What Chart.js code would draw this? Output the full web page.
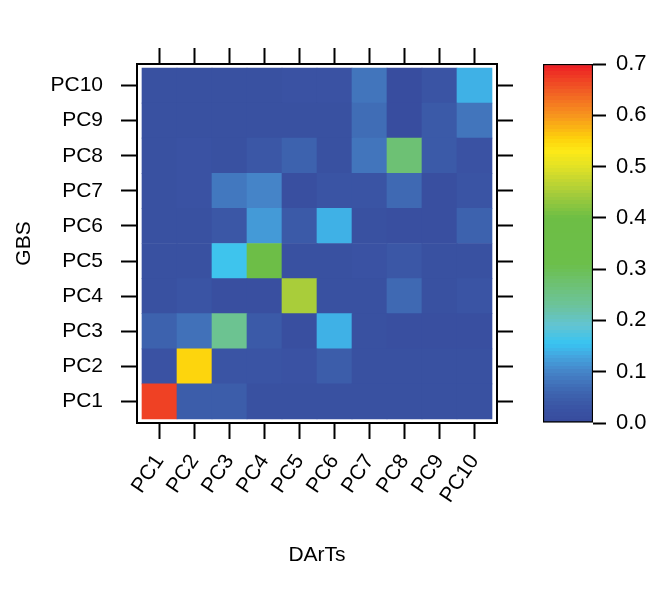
<!DOCTYPE html>
<html>
<head>
<meta charset="utf-8">
<script src="https://cdn.jsdelivr.net/npm/chart.js@4.4.1/dist/chart.umd.min.js"></script>
<style>
  html, body { margin: 0; padding: 0; background: #fff; }
  #wrap { position: relative; width: 666px; height: 595px; }
  #heat { position: absolute; left: 0; top: 0; }
  #bar { position: absolute; left: 500px; top: 0; }
</style>
</head>
<body>
<div id="wrap">
  <canvas id="heat" width="666" height="595"></canvas>
  <canvas id="bar" width="166" height="595"></canvas>
</div>
<script>
// DArTs components along x, GBS components along y
const dartsLabels = ['PC1', 'PC2', 'PC3', 'PC4', 'PC5', 'PC6', 'PC7', 'PC8', 'PC9', 'PC10'];
const gbsLabels = ['PC1', 'PC2', 'PC3', 'PC4', 'PC5', 'PC6', 'PC7', 'PC8', 'PC9', 'PC10'];

// one array per GBS row, values for DArTs PC1..PC10
const gbsPC1 = [0.67, 0.045, 0.045, 0.02, 0.02, 0.02, 0.02, 0.02, 0.02, 0.02];
const gbsPC2 = [0.025, 0.55, 0.03, 0.03, 0.025, 0.045, 0.02, 0.02, 0.02, 0.02];
const gbsPC3 = [0.055, 0.075, 0.24, 0.04, 0.015, 0.14, 0.02, 0.015, 0.015, 0.015];
const gbsPC4 = [0.02, 0.03, 0.015, 0.015, 0.45, 0.02, 0.02, 0.065, 0.02, 0.03];
const gbsPC5 = [0.02, 0.02, 0.16, 0.36, 0.02, 0.02, 0.025, 0.035, 0.02, 0.02];
const gbsPC6 = [0.02, 0.02, 0.035, 0.12, 0.04, 0.14, 0.02, 0.015, 0.015, 0.055];
const gbsPC7 = [0.02, 0.025, 0.085, 0.10, 0.015, 0.03, 0.03, 0.065, 0.015, 0.03];
const gbsPC8 = [0.02, 0.025, 0.02, 0.035, 0.055, 0.02, 0.08, 0.27, 0.04, 0.025];
const gbsPC9 = [0.02, 0.02, 0.02, 0.02, 0.02, 0.02, 0.07, 0.01, 0.04, 0.08];
const gbsPC10 = [0.02, 0.02, 0.02, 0.02, 0.025, 0.025, 0.08, 0.01, 0.03, 0.14];
const gbsRows = [gbsPC1, gbsPC2, gbsPC3, gbsPC4, gbsPC5, gbsPC6, gbsPC7, gbsPC8, gbsPC9, gbsPC10];

// colour key
const keyMin = 0.0;
const keyMax = 0.7;
const keyTicks = [0.0, 0.1, 0.2, 0.3, 0.4, 0.5, 0.6, 0.7];

// palette stops (value, colour)
const palette = [
  [0.00, '#374a9c'], [0.03, '#3a54a4'], [0.06, '#3e65b0'], [0.10, '#4584c8'],
  [0.13, '#44a5df'], [0.155, '#38c4f1'], [0.19, '#62c4d2'], [0.23, '#6cc39a'],
  [0.26, '#6dc27e'], [0.31, '#6cbf4a'], [0.40, '#6dbe45'], [0.45, '#a9cd3a'],
  [0.50, '#e2e225'], [0.53, '#fde917'], [0.555, '#fdd00b'], [0.60, '#f7941e'],
  [0.65, '#f15a24'], [0.70, '#ed1c24']
];

function hexRgb(h) {
  return [1, 3, 5].map(i => parseInt(h.substr(i, 2), 16));
}

function colorFor(v) {
  if (v <= palette[0][0]) return palette[0][1];
  for (let i = 1; i < palette.length; i++) {
    if (v <= palette[i][0]) {
      const [v0, c0] = palette[i - 1];
      const [v1, c1] = palette[i];
      const t = (v - v0) / (v1 - v0);
      const a = hexRgb(c0), b = hexRgb(c1);
      const c = a.map((x, k) => Math.round(x + (b[k] - x) * t));
      return `rgb(${c[0]},${c[1]},${c[2]})`;
    }
  }
  return palette[palette.length - 1][1];
}

Chart.defaults.font.family = "'Liberation Sans', Arial, sans-serif";
Chart.defaults.font.size = 21;
Chart.defaults.color = '#000';

const tickGrid = { drawOnChartArea: false, offset: false, tickLength: 16, tickColor: '#000', tickWidth: 2 };
const frame = { display: true, color: '#000', width: 2 };
const xTicks = axis => { axis.ticks = dartsLabels.map((_, i) => ({ value: i + 1 })); };
const yTicks = axis => { axis.ticks = gbsLabels.map((_, i) => ({ value: i + 1 })); };

const datasets = gbsRows.map((row, r) => ({
  label: gbsLabels[r],
  data: row.map((v, c) => ({ x: c + 1, y: [r + 0.5, r + 1.5], v: v })),
  backgroundColor: ctx => colorFor(ctx.raw.v),
  borderWidth: 0,
  grouped: false,
  barPercentage: 1,
  categoryPercentage: 1
}));

new Chart(document.getElementById('heat'), {
  type: 'bar',
  data: { datasets },
  options: {
    responsive: false,
    devicePixelRatio: 1,
    animation: false,
    layout: { padding: 0 },
    plugins: { legend: { display: false }, tooltip: { enabled: false } },
    scales: {
      x: {
        type: 'linear', position: 'bottom', min: 0.357, max: 10.643, offset: false,
        afterBuildTicks: xTicks,
        afterFit: s => { s.height = 172; },
        ticks: { callback: v => dartsLabels[v - 1], minRotation: 56, maxRotation: 56, padding: 11 },
        grid: tickGrid, border: frame,
        title: { display: true, text: 'DArTs', padding: { top: 0, bottom: 27 } }
      },
      x2: {
        type: 'linear', axis: 'x', position: 'top', min: 0.357, max: 10.643, offset: false,
        afterBuildTicks: xTicks,
        afterFit: s => { s.height = 64; },
        ticks: { display: false },
        grid: tickGrid, border: frame
      },
      y: {
        type: 'linear', position: 'left', min: 0.386, max: 10.614, offset: false,
        afterBuildTicks: yTicks,
        afterFit: s => { s.width = 137; },
        ticks: { callback: v => gbsLabels[v - 1], padding: 18 },
        grid: tickGrid, border: frame,
        title: { display: true, text: 'GBS', padding: { top: 12, bottom: 0 } }
      },
      y2: {
        type: 'linear', axis: 'y', position: 'right', min: 0.386, max: 10.614, offset: false,
        afterBuildTicks: yTicks,
        afterFit: s => { s.width = 169; },
        ticks: { display: false },
        grid: tickGrid, border: frame
      }
    }
  }
});

function keyGradient(ctx) {
  const chart = ctx.chart;
  if (!chart.chartArea) return colorFor(keyMin);
  const y = chart.scales.y;
  const y0 = y.getPixelForValue(keyMin), y1 = y.getPixelForValue(keyMax);
  const g = chart.ctx.createLinearGradient(0, y0, 0, y1);
  const bands = 100;
  for (let i = 0; i < bands; i++) {
    const c = colorFor(keyMin + (i + 0.5) / bands * (keyMax - keyMin));
    g.addColorStop(i / bands, c);
    g.addColorStop((i + 1) / bands, c);
  }
  return g;
}

new Chart(document.getElementById('bar'), {
  type: 'bar',
  data: {
    labels: [''],
    datasets: [{
      data: [[keyMin, keyMax]],
      backgroundColor: keyGradient,
      borderColor: '#000',
      borderWidth: 1.5,
      borderSkipped: false,
      barPercentage: 1,
      categoryPercentage: 1
    }]
  },
  options: {
    responsive: false,
    devicePixelRatio: 1,
    animation: false,
    layout: { padding: { left: 43, top: 64, bottom: 172, right: 0 } },
    plugins: { legend: { display: false }, tooltip: { enabled: false } },
    scales: {
      x: { display: false },
      y: {
        position: 'right', min: keyMin, max: keyMax,
        afterBuildTicks: axis => { axis.ticks = keyTicks.map(v => ({ value: v })); },
        afterFit: s => { s.width = 73; },
        ticks: { callback: v => v.toFixed(1), padding: 10, font: { size: 22 } },
        grid: { drawOnChartArea: false, tickLength: 13, tickColor: '#000', tickWidth: 2 },
        border: { display: false }
      }
    }
  }
});
</script>
</body>
</html>
